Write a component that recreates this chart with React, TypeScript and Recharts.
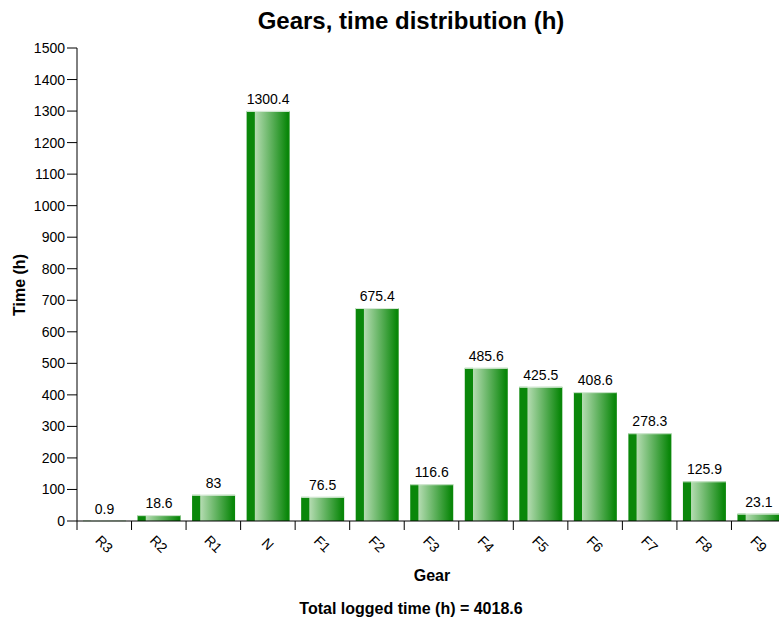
import { BarChart, Bar, XAxis, YAxis, LabelList } from 'recharts'

const gears = ['R3', 'R2', 'R1', 'N', 'F1', 'F2', 'F3', 'F4', 'F5', 'F6', 'F7', 'F8', 'F9']
const hours = [0.9, 18.6, 83, 1300.4, 76.5, 675.4, 116.6, 485.6, 425.5, 408.6, 278.3, 125.9, 23.1]
const yTicks = [0, 100, 200, 300, 400, 500, 600, 700, 800, 900, 1000, 1100, 1200, 1300, 1400, 1500]
const totalText = 'Total logged time (h) = 4018.6'

const data = gears.map((gear, i) => ({ gear, hours: hours[i] }))

const FONT = '"Liberation Sans", Arial, Helvetica, sans-serif'
const CHART_W = 800
const CHART_H = 621
const MARGIN = { top: 48, right: 14, bottom: 40, left: 17 }
const Y_AXIS_W = 60
const PLOT_W = CHART_W - MARGIN.left - MARGIN.right - Y_AXIS_W
const BAND = PLOT_W / gears.length

function GearTick(props: any) {
  const { x, y, payload } = props
  const edge = x - BAND / 2
  return (
    <g>
      <line x1={edge} y1={y} x2={edge} y2={y + 9} stroke="#000" />
      <text
        x={x}
        y={y + 23}
        transform={`rotate(45, ${x}, ${y + 23})`}
        textAnchor="middle"
        dominantBaseline="central"
        fontSize={14}
        fontFamily={FONT}
        fill="#000"
      >
        {payload.value}
      </text>
    </g>
  )
}

function GradientBar(props: any) {
  const { x, y, width, height } = props
  if (height <= 0) return null
  return (
    <g>
      <rect x={x} y={y} width={width} height={height} fill="url(#gearFill)" />
      <line x1={x} y1={y + 0.5} x2={x + width} y2={y + 0.5} stroke="#d8ead8" />
    </g>
  )
}

export default function App() {
  return (
    <div style={{ position: 'fixed', left: 0, top: 0, width: 779, height: 621, overflow: 'hidden', background: '#fff' }}>
      <BarChart width={CHART_W} height={CHART_H} data={data} margin={MARGIN}>
        <defs>
          <linearGradient id="gearFill" x1="0" y1="0" x2="1" y2="0">
            <stop offset="0" stopColor="#0a870a" />
            <stop offset="0.18" stopColor="#0a870a" />
            <stop offset="0.2" stopColor="#b3dbb0" />
            <stop offset="0.95" stopColor="#0a870a" />
            <stop offset="1" stopColor="#0a870a" />
          </linearGradient>
        </defs>
        <XAxis
          dataKey="gear"
          height={60}
          interval={0}
          tickLine={false}
          tickSize={0}
          tickMargin={0}
          axisLine={{ stroke: '#000' }}
          tick={<GearTick />}
        />
        <YAxis
          width={Y_AXIS_W}
          domain={[0, 1500]}
          ticks={yTicks}
          interval={0}
          tickSize={10}
          tickMargin={2}
          axisLine={{ stroke: '#000' }}
          tickLine={{ stroke: '#000' }}
          tick={{ fontSize: 14, fontFamily: FONT, fill: '#000' }}
        />
        <Bar dataKey="hours" barSize={43} shape={<GradientBar />} isAnimationActive={false}>
          <LabelList dataKey="hours" position="top" offset={7} fontSize={14} fontFamily={FONT} fill="#000" />
        </Bar>
      </BarChart>
      <svg
        width={779}
        height={621}
        style={{ position: 'absolute', left: 0, top: 0, pointerEvents: 'none' }}
        fontFamily={FONT}
        fontWeight="bold"
        fill="#000"
      >
        <text x={411} y={29} textAnchor="middle" fontSize={24}>Gears, time distribution (h)</text>
        <text x={432} y={580.5} textAnchor="middle" fontSize={16}>Gear</text>
        <text x={25} y={285} textAnchor="middle" fontSize={16} transform="rotate(-90, 25, 285)">Time (h)</text>
        <text x={411} y={613.5} textAnchor="middle" fontSize={16}>{totalText}</text>
      </svg>
    </div>
  )
}
